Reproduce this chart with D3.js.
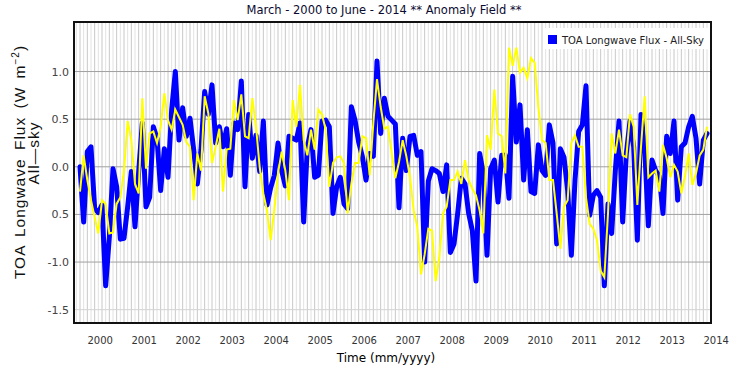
<!DOCTYPE html>
<html><head><meta charset="utf-8">
<script src="https://cdn.jsdelivr.net/npm/d3@7"></script>
<style>
html,body{margin:0;padding:0;background:#fff;}
svg{display:block;}
</style></head>
<body>
<svg id="c" width="737" height="380"></svg>
<script>
// ---- data (monthly anomalies, March 2000 .. June 2014) ----
const startYear = 2000, startMonth = 3; // March 2000
const blueSeries = [
 0.00,-0.58,0.16,0.21,-0.44,-0.48,-0.40,-1.25,-0.74,-0.02,
 -0.21,-0.76,-0.75,-0.42,-0.05,-0.63,-0.05,0.46,-0.42,-0.32,
 0.42,0.30,-0.25,0.19,-0.11,0.60,1.00,0.28,0.62,0.32,
 0.51,0.18,-0.18,0.18,0.79,0.55,0.86,0.25,0.42,0.21,
 0.40,-0.09,0.46,0.39,0.90,-0.21,0.55,0.09,0.33,-0.05,
 0.48,-0.40,-0.22,-0.09,0.25,-0.04,-0.20,0.32,0.30,0.28,
 0.46,-0.58,0.21,0.39,-0.11,-0.09,0.48,0.49,0.42,-0.49,
 -0.21,-0.11,-0.39,-0.44,0.63,0.49,0.26,0.11,-0.14,0.14,
 0.11,1.11,0.35,0.72,0.53,0.49,0.45,-0.43,0.30,-0.04,
 0.32,0.33,0.12,0.16,-1.00,-0.15,-0.02,-0.04,-0.07,-0.26,
 0.02,-0.90,-0.81,-0.49,-0.12,-0.18,-0.49,-0.67,-1.20,0.14,
 -0.07,-0.93,-0.02,0.07,-0.37,0.12,0.12,-0.33,0.95,0.26,
 0.65,-0.14,0.39,-0.26,-0.28,0.23,-0.04,-0.09,0.44,0.25,
 -0.81,0.19,0.10,-0.25,-0.93,-0.14,0.37,0.44,0.85,-0.51,
 -0.30,-0.25,-0.32,-1.25,-0.39,-0.70,-0.04,0.48,-0.58,0.14,
 0.48,0.21,-0.77,0.55,0.21,-0.62,0.07,-0.04,-0.10,-0.49,
 0.32,0.14,0.48,-0.35,0.21,0.25,0.42,0.53,0.30,-0.18,
 0.28,0.35
];
const yellowSeries = [
 -0.26,0.12,-0.14,-0.35,-0.53,-0.70,-0.35,-0.39,-0.70,-0.69,
 -0.39,-0.32,-0.04,0.48,0.28,-0.18,-0.28,0.72,-0.02,0.35,
 0.37,0.25,0.42,0.77,0.49,0.39,0.60,0.52,0.44,0.26,
 0.21,-0.35,0.14,-0.04,0.74,0.56,0.04,0.21,0.40,-0.26,
 0.18,0.19,0.70,0.49,0.76,0.32,0.30,0.72,0.42,0.00,
 -0.28,-0.46,-0.77,-0.45,-0.07,0.16,-0.04,-0.35,0.70,0.42,
 0.86,0.28,0.12,0.39,0.18,0.60,0.55,0.39,-0.21,0.04,
 0.10,0.11,0.04,-0.49,-0.18,0.04,0.04,0.32,0.30,-0.09,
 0.46,0.92,0.63,0.40,0.42,0.15,-0.12,0.05,0.28,0.11,
 -0.11,-0.46,-0.63,-1.13,-0.92,-0.65,-0.67,-1.20,-0.95,-0.49,
 -0.42,-0.14,-0.14,-0.05,-0.18,0.07,-0.14,-0.23,-0.30,-0.46,
 -0.70,0.33,0.18,0.81,0.35,0.32,-0.07,1.25,1.06,1.25,
 0.99,1.04,0.93,1.14,1.09,0.63,0.28,0.25,-0.14,-0.14,
 -0.49,-0.86,-0.42,-0.35,0.25,0.33,0.21,0.21,-0.32,-0.60,
 -0.65,-0.77,-1.09,-1.16,-0.49,0.35,0.14,0.39,0.12,0.10,
 0.55,0.42,-0.40,0.21,0.74,-0.11,-0.07,-0.04,-0.26,0.23,
 0.09,-0.11,0.02,-0.05,-0.28,-0.10,0.14,-0.19,-0.07,0.12,
 0.18,0.42
];
const yTickValues = [1.0, 0.5, 0.0, -0.5, -1.0, -1.5];
const yTickLabels = ["1.0", "0.5", "0.0", "0.5", "-1.0", "-1.5"];
const yearLabels = [2000,2001,2002,2003,2004,2005,2006,2007,2008,2009,2010,2011,2012,2013,2014];
const titleText = "March - 2000 to June - 2014 ** Anomaly Field **";
const legendText = "TOA Longwave Flux - All-Sky";
const xTitle = "Time (mm/yyyy)";

// ---- layout ----
const svg = d3.select("#c");
const P = {l:74, t:22, r:711, b:323};
const n = blueSeries.length;
const x = d3.scaleLinear().domain([0, n-1]).range([80, 707]);
const y = d3.scaleLinear().domain([-1.64, 1.52]).range([P.b, P.t]);
const F = "'DejaVu Sans', Verdana, sans-serif";

svg.append("defs").append("clipPath").attr("id","pc")
  .append("rect").attr("x",P.l).attr("y",P.t).attr("width",P.r-P.l).attr("height",P.b-P.t);

svg.append("rect").attr("x",P.l).attr("y",P.t).attr("width",P.r-P.l).attr("height",P.b-P.t).attr("fill","#fff");

const grid = svg.append("g").attr("clip-path","url(#pc)");
// monthly vertical grid lines
const months = d3.range(-2, n+3);
grid.selectAll("line.v").data(months).join("line")
  .attr("x1", d=>x(d)).attr("x2", d=>x(d))
  .attr("y1", P.t).attr("y2", P.b)
  .attr("stroke", (d)=> (d%2===0) ? "#c8c8c8" : "#e2e2e2").attr("stroke-width",1);
// horizontal grid lines
grid.selectAll("line.h").data(yTickValues).join("line")
  .attr("x1", P.l).attr("x2", P.r)
  .attr("y1", d=>y(d)).attr("y2", d=>y(d))
  .attr("stroke", (d)=> d===-1.5 ? "#d4d4d4" : "#a0a0a0").attr("stroke-width",1);

// series
const line = d3.line().x((d,i)=>x(i)).y(d=>y(d));
const lines = svg.append("g").attr("clip-path","url(#pc)");
lines.append("path").datum(blueSeries).attr("d",line)
  .attr("fill","none").attr("stroke","#0000ff").attr("stroke-width",5)
  .attr("stroke-linejoin","round").attr("stroke-linecap","round");
lines.append("path").datum(yellowSeries).attr("d",line)
  .attr("fill","none").attr("stroke","#ffff00").attr("stroke-width",2)
  .attr("stroke-linejoin","miter");

// frame
svg.append("rect").attr("x",P.l).attr("y",P.t).attr("width",P.r-P.l).attr("height",P.b-P.t)
  .attr("fill","none").attr("stroke","#111").attr("stroke-width",2);

// y tick labels
svg.append("g").selectAll("text").data(yTickValues).join("text")
  .attr("x", 69).attr("y", d=>y(d)+4)
  .attr("text-anchor","end").attr("font-family",F).attr("font-size",11)
  .attr("fill","#444").text((d,i)=>yTickLabels[i]);

// x tick labels
svg.append("g").selectAll("text").data(yearLabels).join("text")
  .attr("x", d=> x((d-startYear)*12 + 5.5)).attr("y", 344)
  .attr("text-anchor","middle").attr("font-family",F).attr("font-size",10)
  .attr("fill","#333").text(d=>d);

// x title
svg.append("text").attr("x",386).attr("y",362).attr("text-anchor","middle")
  .attr("font-family",F).attr("font-size",12).attr("fill","#000").text(xTitle);

// title
svg.append("text").attr("x",384).attr("y",14).attr("text-anchor","middle")
  .attr("font-family",F).attr("font-size",11.5).attr("fill","#0a0a30").text(titleText);

// y title
const yt = svg.append("text").attr("transform","translate(25,162) rotate(-90)")
  .attr("text-anchor","middle").attr("font-family","'Liberation Sans', Arial, sans-serif")
  .attr("font-size",15.5).attr("letter-spacing",1).attr("word-spacing",3).attr("fill","#111");
yt.append("tspan").text("TOA Longwave Flux (W m");
yt.append("tspan").attr("dy",-6).attr("font-size",10).text("\u22122");
yt.append("tspan").attr("dy",6).text(")");
svg.append("text").attr("transform","translate(39,153) rotate(-90)")
  .attr("text-anchor","middle").attr("font-family","'Liberation Sans', Arial, sans-serif")
  .attr("font-size",15.5).attr("letter-spacing",1).attr("fill","#111").text("All\u2014sky");

// legend
svg.append("rect").attr("x",544).attr("y",28).attr("width",165).attr("height",21).attr("fill","#fff");
svg.append("rect").attr("x",548).attr("y",35).attr("width",9).attr("height",9).attr("fill","#0000ff");
svg.append("text").attr("x",562).attr("y",44).attr("font-family",F).attr("font-size",10)
  .attr("fill","#222").text(legendText);
</script>
</body></html>
